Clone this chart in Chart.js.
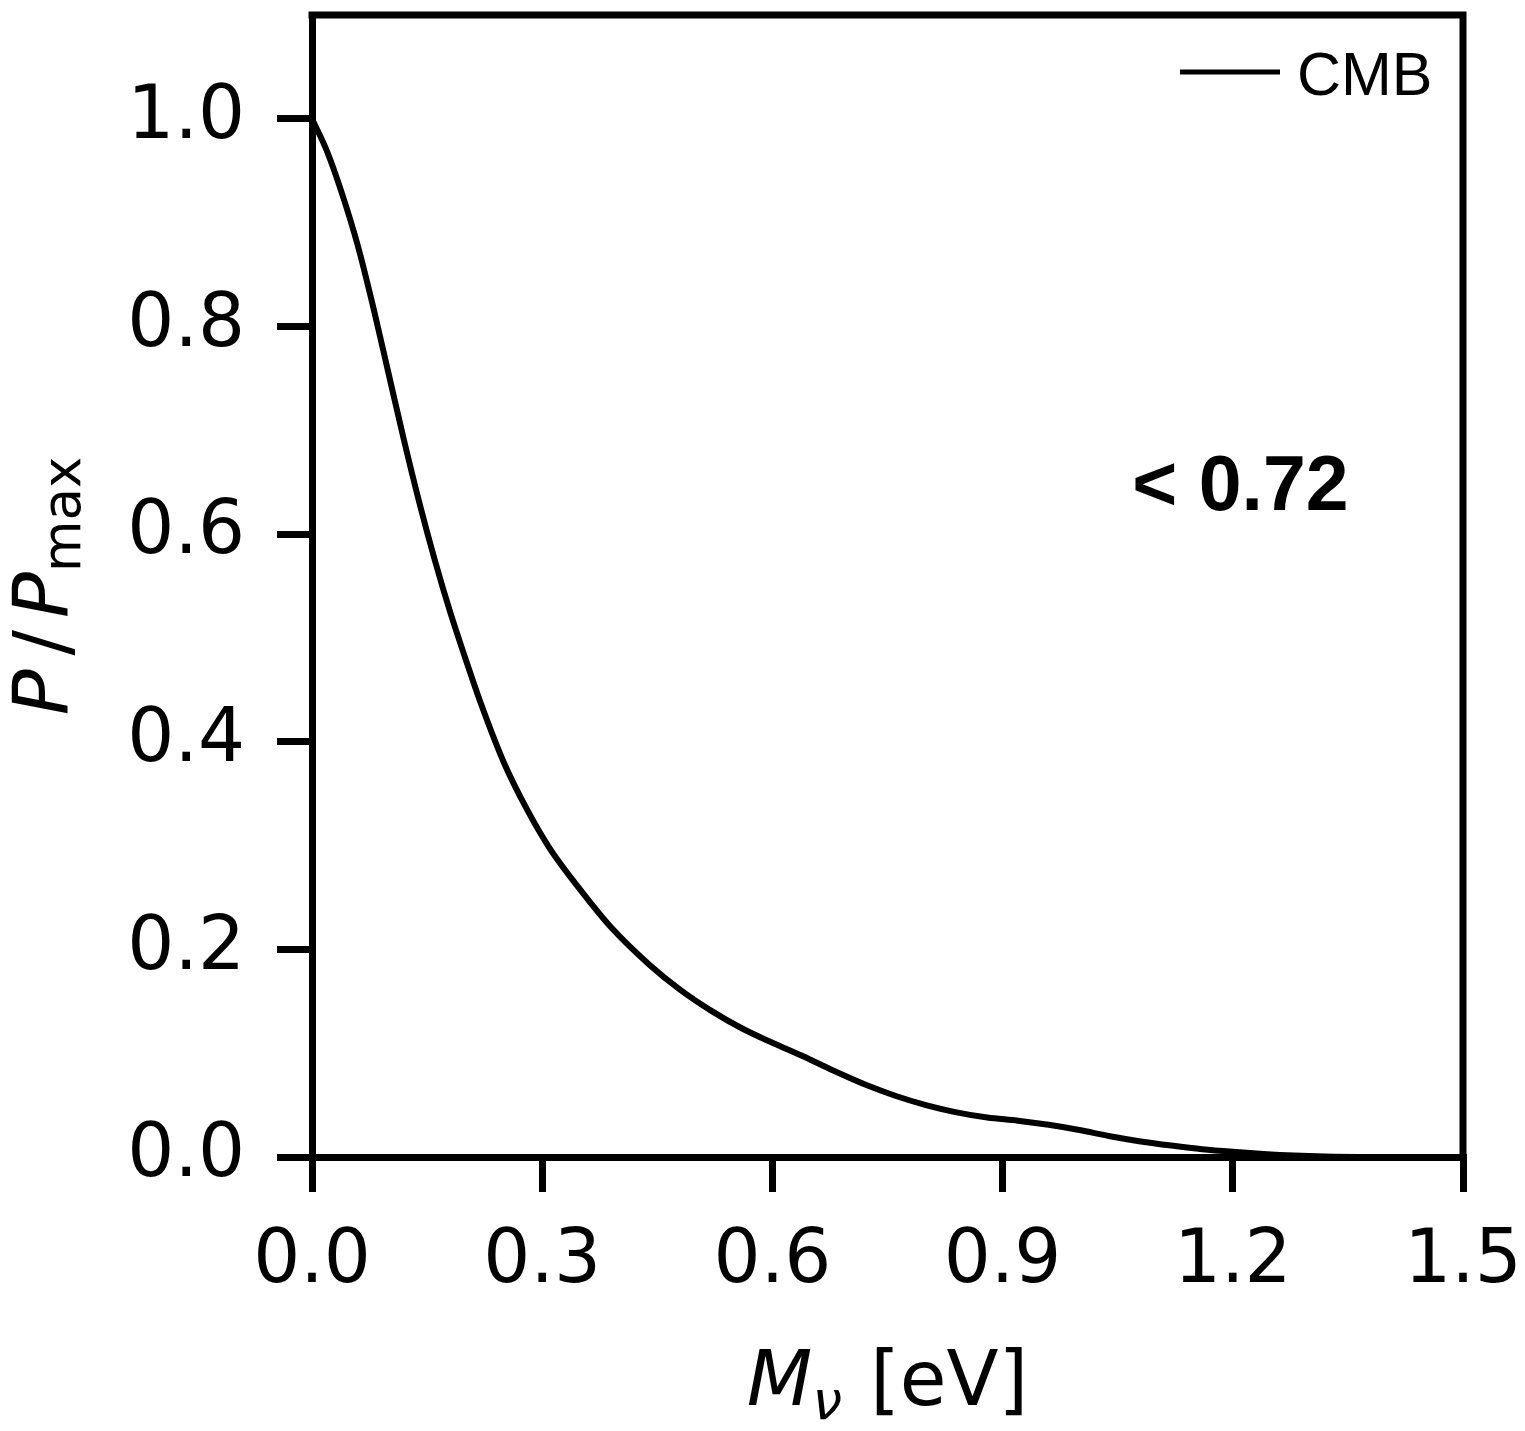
<!DOCTYPE html>
<html>
<head>
<meta charset="utf-8">
<script src="https://cdn.jsdelivr.net/npm/chart.js@4.4.0/dist/chart.umd.min.js"></script>
<style>
  html, body { margin: 0; padding: 0; background: #fff; }
  #wrap { width: 1525px; height: 1431px; }
</style>
</head>
<body>
<div id="wrap"><canvas id="chart" width="1525" height="1431"></canvas></div>
<script>
// values
const massEV = [0, 0.02, 0.04, 0.06, 0.08, 0.10, 0.12, 0.14, 0.16, 0.18, 0.20, 0.22, 0.25, 0.28, 0.31,
    0.35, 0.39, 0.44, 0.48, 0.52, 0.56, 0.60, 0.64, 0.68, 0.72, 0.76, 0.80, 0.84, 0.88, 0.92,
    0.96, 1.00, 1.04, 1.08, 1.12, 1.16, 1.20, 1.24, 1.28, 1.32, 1.38, 1.45, 1.50];
const probCMB = [1.0, 0.968, 0.926, 0.877, 0.818, 0.754, 0.690, 0.630, 0.575, 0.525, 0.480, 0.437, 0.380, 0.335, 0.297,
    0.257, 0.221, 0.185, 0.161, 0.141, 0.124, 0.110, 0.097, 0.083, 0.070, 0.059, 0.050, 0.043, 0.038, 0.035,
    0.031, 0.026, 0.020, 0.015, 0.011, 0.0075, 0.005, 0.003, 0.0015, 0.0006, 0.0001, 0, 0];
const xTicks = [0, 0.3, 0.6, 0.9, 1.2, 1.5];
const yTicks = [0, 0.2, 0.4, 0.6, 0.8, 1.0];
const seriesLabel = 'CMB';
const boundText = '< 0.72';

const tickFont = { family: 'DejaVu Sans', size: 74 };

function drawRuns(ctx, runs, x, y) {
    // runs drawn left to right, centred on x, baseline at y
    let total = 0;
    for (let r of runs) {
        ctx.font = r.font;
        r.w = ctx.measureText(r.text).width + (r.gap || 0);
        total += r.w;
    }
    let cx = x - total / 2;
    ctx.textAlign = 'left';
    ctx.textBaseline = 'alphabetic';
    for (let r of runs) {
        ctx.font = r.font;
        ctx.fillText(r.text, cx, y + (r.dy || 0));
        cx += r.w;
    }
}

const decorations = {
    id: 'decorations',
    afterDraw(chart) {
        const ctx = chart.ctx;
        const a = chart.chartArea;
        const xs = chart.scales.x, ys = chart.scales.y;
        ctx.save();
        ctx.strokeStyle = '#000';
        ctx.fillStyle = '#000';

        // top and right edges of the frame
        ctx.lineWidth = 7;
        ctx.lineCap = 'square';
        ctx.beginPath();
        ctx.moveTo(a.left, a.top);
        ctx.lineTo(a.right, a.top);
        ctx.lineTo(a.right, a.bottom);
        ctx.stroke();

        // x title
        drawRuns(ctx, [
            { text: 'M', font: 'oblique 76px "DejaVu Sans"' },
            { text: 'ν', font: 'oblique 53px "DejaVu Sans"', dy: 14, gap: 4 },
            { text: ' [eV]', font: '76px "DejaVu Sans"' }
        ], (a.left + a.right) / 2, 1405);

        // y title
        ctx.save();
        ctx.translate(68, (a.top + a.bottom) / 2);
        ctx.rotate(-Math.PI / 2);
        drawRuns(ctx, [
            { text: 'P', font: 'oblique 76px "DejaVu Sans"', gap: 14 },
            { text: '/', font: '76px "DejaVu Sans"', gap: 12 },
            { text: 'P', font: 'oblique 76px "DejaVu Sans"' },
            { text: 'max', font: '53px "DejaVu Sans"', dy: 12 }
        ], 0, 0);
        ctx.restore();

        // legend
        ctx.lineCap = 'butt';
        ctx.lineWidth = 5;
        ctx.beginPath();
        ctx.moveTo(a.right - 283, a.top + 57);
        ctx.lineTo(a.right - 183, a.top + 57);
        ctx.stroke();
        ctx.font = '61px "Liberation Sans"';
        ctx.textAlign = 'left';
        ctx.textBaseline = 'alphabetic';
        ctx.fillText(chart.data.datasets[0].label, a.right - 166, a.top + 80);

        // bound annotation
        ctx.font = 'bold 77px "Liberation Sans"';
        ctx.textAlign = 'center';
        ctx.fillText(boundText, xs.getPixelForValue(1.21), ys.getPixelForValue(0.623));

        ctx.restore();
    }
};

const points = massEV.map((m, i) => ({ x: m, y: probCMB[i] }));

new Chart(document.getElementById('chart'), {
    type: 'line',
    data: {
        datasets: [{
            label: seriesLabel,
            data: points,
            borderColor: '#000',
            borderWidth: 6,
            pointRadius: 0,
            cubicInterpolationMode: 'monotone',
            fill: false
        }]
    },
    options: {
        responsive: false,
        devicePixelRatio: 1,
        animation: false,
        layout: { padding: { top: 15, right: 62, left: 0, bottom: 0 } },
        plugins: { legend: { display: false }, tooltip: { enabled: false } },
        scales: {
            x: {
                type: 'linear',
                min: 0,
                max: 1.5,
                afterBuildTicks: s => { s.ticks = xTicks.map(v => ({ value: v })); },
                afterFit: s => { s.height = 274; s.paddingLeft = 0; s.paddingRight = 0; },
                ticks: {
                    font: tickFont,
                    color: '#000',
                    padding: 26,
                    maxRotation: 0,
                    callback: v => v.toFixed(1)
                },
                grid: { display: true, drawOnChartArea: false, drawTicks: true, tickLength: 35, lineWidth: 7, color: '#000' },
                border: { display: true, width: 7, color: '#000' }
            },
            y: {
                type: 'linear',
                min: 0,
                max: 1.1,
                afterBuildTicks: s => { s.ticks = yTicks.map(v => ({ value: v })); },
                afterFit: s => { s.width = 312; s.paddingTop = 0; s.paddingBottom = 0; },
                ticks: {
                    font: tickFont,
                    color: '#000',
                    padding: 32,
                    callback: v => v.toFixed(1)
                },
                grid: { display: true, drawOnChartArea: false, drawTicks: true, tickLength: 35, lineWidth: 7, color: '#000' },
                border: { display: true, width: 7, color: '#000' }
            }
        }
    },
    plugins: [decorations]
});
</script>
</body>
</html>
